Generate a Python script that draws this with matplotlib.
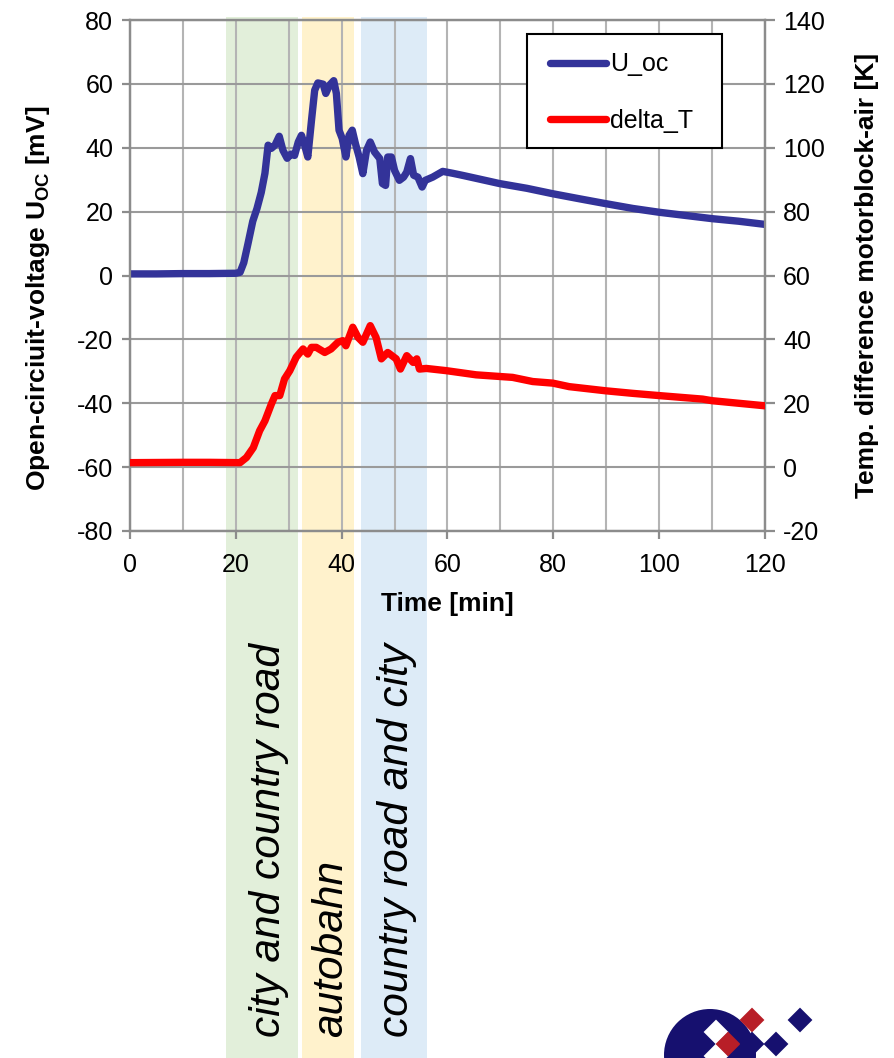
import matplotlib
matplotlib.use("Agg")
import matplotlib.pyplot as plt
import matplotlib.transforms as mtransforms
from matplotlib.patches import Rectangle, Circle, RegularPolygon

plt.rcParams['font.family'] = ['Liberation Sans', 'DejaVu Sans']
plt.rcParams['mathtext.fontset'] = 'custom'
plt.rcParams['mathtext.rm'] = 'Liberation Sans'
plt.rcParams['mathtext.bf'] = 'Liberation Sans:bold'
plt.rcParams['axes.unicode_minus'] = False

# Open-circuit voltage over time (min, mV)
t_uoc = [0, 5, 10, 15, 20, 20.8, 21.5, 22.3, 23.2, 24.0, 24.8, 25.5, 26.1, 26.7,
         27.4, 28.2, 28.9, 29.7, 30.4, 31.1, 31.8, 32.4, 33.0, 33.6, 34.3, 34.9,
         35.5, 36.5, 37.0, 37.7, 38.5, 39.0, 39.5, 40.1, 40.8, 41.4, 42.0, 42.6,
         43.3, 44.0, 44.7, 45.4, 46.2, 47.2, 47.7, 48.3, 48.7, 49.4, 50.0, 50.9,
         51.7, 52.3, 53.0, 53.6, 54.4, 55.2, 55.8, 57.2, 59.1, 61.0, 63.0, 66.0,
         69.8, 75.0, 79.9, 85.0, 89.9, 95.0, 100.0, 105.0, 110.0, 115.0, 120.0]
u_oc = [0.5, 0.5, 0.6, 0.6, 0.7, 1.0, 4.0, 10.0, 17.0, 21.0, 26.0, 32.0, 40.8, 39.8,
        40.8, 43.6, 39.2, 36.7, 38.0, 37.6, 41.8, 43.9, 40.8, 37.1, 48.6, 58.0,
        60.3, 59.9, 57.0, 59.6, 61.0, 57.0, 45.5, 42.9, 37.1, 43.9, 45.5, 41.3,
        37.1, 31.9, 39.2, 41.8, 38.7, 36.6, 28.8, 28.2, 37.1, 37.1, 32.9, 29.8,
        30.8, 32.4, 36.6, 31.4, 30.8, 27.7, 29.8, 30.8, 32.6, 32.0, 31.3, 30.2,
        28.8, 27.3, 25.6, 24.0, 22.5, 21.0, 19.8, 18.8, 17.8, 17.0, 16.0]

# Temperature difference motor block - air (min, K)
t_dt = [0, 10, 15, 20.8, 22.0, 23.3, 24.5, 25.5, 26.7, 27.4, 28.3, 29.2, 30.2,
        31.4, 32.7, 33.6, 34.3, 35.2, 36.8, 38.0, 39.3, 40.2, 40.8, 42.1, 43.1,
        44.0, 45.4, 46.5, 47.5, 48.7, 50.3, 51.1, 52.3, 53.5, 54.2, 54.7, 56.0,
        59.8, 65.4, 72.3, 76.1, 79.9, 83.0, 89.9, 95.0, 100.0, 108.2, 110.0,
        115.0, 120.0]
delta_t = [1.4, 1.5, 1.5, 1.4, 3.0, 6.1, 11.4, 14.5, 19.7, 22.4, 22.4, 27.6, 30.2,
           34.4, 37.0, 35.4, 37.5, 37.5, 35.9, 37.0, 39.1, 39.6, 38.0, 43.8, 40.6,
           39.1, 44.3, 40.6, 33.9, 35.9, 33.9, 30.7, 34.9, 32.8, 33.9, 30.7, 30.9,
           30.2, 28.9, 28.1, 26.8, 26.3, 25.2, 23.9, 23.1, 22.4, 21.3, 20.8,
           20.0, 19.2]

# Driving phases (start, end in min)
phase_labels = ["city and country road", "autobahn", "country road and city"]
phase_start = [18.1, 32.5, 43.6]
phase_end = [31.7, 42.3, 56.2]
phase_colors = ["#E2EFDA", "#FFF2CC", "#DDEBF7"]

W, H = 894, 1058
fig = plt.figure(figsize=(W / 100, H / 100), dpi=100)
ax = fig.add_axes([130 / W, 1 - 531 / H, (765 - 130) / W, (531 - 20) / H])
ax.set_facecolor('none')
ax2 = ax.twinx()
ax2.set_facecolor('none')

BLUE = "#333399"
RED = "#FF0000"
ax.plot(t_uoc, u_oc, color=BLUE, lw=5.3, solid_capstyle='round',
        solid_joinstyle='round', label="U_oc", zorder=3)
ax2.plot(t_dt, delta_t, color=RED, lw=5.3, solid_capstyle='round',
         solid_joinstyle='round', label="delta_T", zorder=3)

ax.set_xlim(0, 120)
ax.set_ylim(-80, 80)
ax2.set_ylim(-20, 140)
ax.set_xticks(range(0, 121, 20))
ax.set_xticks(range(0, 121, 10), minor=True)
ax.set_yticks(range(-80, 81, 20))
ax2.set_yticks(range(-20, 141, 20))

ax.grid(True, which='both', axis='x', color='#B4B4B4', lw=1.5, zorder=1)
ax.grid(True, which='major', axis='y', color='#9A9A9A', lw=1.5, zorder=1)
ax.set_axisbelow(True)

for a in (ax, ax2):
    for s in a.spines.values():
        s.set_color('#8C8C8C')
        s.set_linewidth(1.6)
ax.tick_params(axis='both', which='major', labelsize=18, color='#8C8C8C',
               width=1.6, length=6, direction='out', pad=6)
ax.tick_params(axis='x', which='major', pad=10)
ax.tick_params(axis='x', which='minor', length=0)
ax2.tick_params(axis='y', labelsize=18, color='#8C8C8C', width=1.6, length=7,
                direction='out', pad=6)

ax.set_xlabel("Time [min]", fontsize=19, fontweight='bold', labelpad=11)
ax.set_ylabel(r"Open-circiuit-voltage U$_{\mathbf{OC}}$ [mV]", fontsize=19,
              fontweight='bold')
ax.yaxis.set_label_coords((52 - 130) / 635, (531 - 298) / 511)
ax2.set_ylabel("Temp. difference motorblock-air [K]", fontsize=19,
               fontweight='bold', labelpad=22)

# Legend: box drawn separately so its size can be set independently of the entries
ax2.add_patch(Rectangle((527 / W, 1 - 148 / H), (722 - 527) / W, (148 - 34) / H,
                        transform=fig.transFigure, facecolor='white',
                        edgecolor='black', lw=1.5, zorder=9, clip_on=False))
h1, l1 = ax.get_legend_handles_labels()
h2, l2 = ax2.get_legend_handles_labels()
leg = ax2.legend(h1 + h2, l1 + l2, loc='center left',
                 bbox_to_anchor=(550 / W, 1 - 92.5 / H), bbox_transform=fig.transFigure,
                 borderaxespad=0, borderpad=0, fontsize=18, frameon=False,
                 handlelength=2.25, handletextpad=0.16, labelspacing=1.3)
leg.set_zorder(10)

# Phase bands reach from the top of the plot down to the bottom of the figure
band_tf = mtransforms.blended_transform_factory(ax.transData, fig.transFigure)
band_top = 1 - 17 / H
for x0, x1, c in zip(phase_start, phase_end, phase_colors):
    fig.patches.append(Rectangle((x0, 0), x1 - x0, band_top, transform=band_tf,
                                 facecolor=c, edgecolor='none', zorder=-1))

text_x = [28.4, 40.0, 52.6]
for lbl, tx in zip(phase_labels, text_x):
    fig.text(tx, 1 - 1037 / H, lbl, transform=band_tf, rotation=90,
             rotation_mode='anchor', ha='left', va='baseline',
             fontsize=30.5, fontstyle='italic', color='black')

# Institute logo, partly cut off at the lower edge
logo = fig.add_axes([0, 0, 1, 1], zorder=5)
logo.set_xlim(0, W)
logo.set_ylim(H, 0)
logo.axis('off')
NAVY = "#16106F"
DRED = "#B81E27"
logo.add_patch(Circle((710, 1055), 46, color=NAVY, lw=0))
for (cx, cy), col in [((716, 1032), 'white'), ((716, 1056), 'white'),
                      ((752, 1020), DRED), ((728, 1044), DRED),
                      ((752, 1044), NAVY), ((776, 1044), NAVY),
                      ((800, 1020), NAVY)]:
    logo.add_patch(RegularPolygon((cx, cy), 4, radius=12.4, orientation=0,
                                  color=col, lw=0))

fig.savefig("out.png", dpi=100)
